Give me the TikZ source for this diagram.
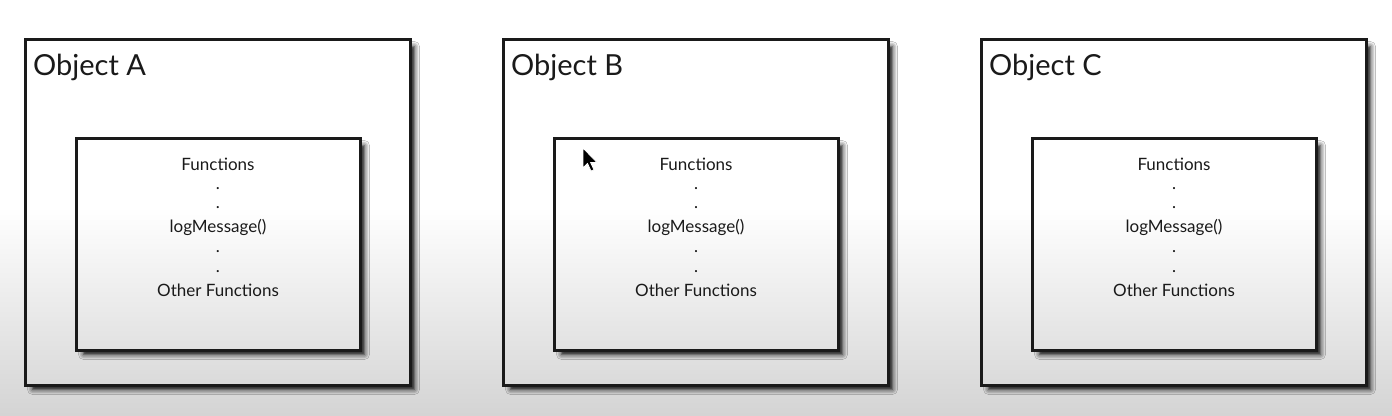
\documentclass[tikz,border=0pt]{standalone}
\usepackage{fontspec}
\setmainfont{Lato}
\usetikzlibrary{shadows.blur}
\definecolor{bgbot}{HTML}{D4D4D4}
\definecolor{ink}{HTML}{1A1A1A}
\pgfdeclareverticalshading{bgshade}{100bp}{color(0bp)=(bgbot); color(25bp)=(bgbot); color(50bp)=(white); color(100bp)=(white)}
\tikzset{
  boxline/.style={draw=ink, line width=3pt},
  softshadow/.style={blur shadow={shadow xshift=6pt, shadow yshift=-6pt, shadow blur radius=5pt, shadow opacity=100, shadow blur extra rounding=0pt}},
  outerbox/.style={boxline, rectangle, minimum width=382pt, minimum height=343pt, inner sep=0pt, softshadow},
  innerbox/.style={boxline, rectangle, minimum width=281pt, minimum height=209pt, inner sep=0pt, softshadow},
  title/.style={anchor=base west, inner sep=0pt, text=ink, font=\fontsize{29}{29}\selectfont},
  fline/.style={anchor=base, inner sep=0pt, text=ink, font=\fontsize{17}{17}\selectfont},
  cursor/.style={fill=black, draw=white, line width=0.8pt}
}
\begin{document}
\begin{tikzpicture}[x=1pt,y=-1pt]
\useasboundingbox (0,0) rectangle (1392,415);
\shade[shading=bgshade] (0,0) rectangle (1392,415);
\coordinate (bgnw) at (0,0);
\coordinate (bgse) at (1392,415);
\foreach \L/\dx in {A/0, B/478, C/956} {
  \node[outerbox] (o\L) at (217.5+\dx,212) {};
  \begin{scope}
    \clip (o\L.south west) rectangle (o\L.north east);
    \shade[shading=bgshade] (bgnw) rectangle (bgse);
  \end{scope}
  \draw[boxline] (o\L.south west) rectangle (o\L.north east);
  \node[title] (t\L) at (33+\dx,75) {Object \L};
  \node[innerbox] (i\L) at (218+\dx,244) {};
  \begin{scope}
    \clip (i\L.south west) rectangle (i\L.north east);
    \shade[shading=bgshade] (bgnw) rectangle (bgse);
  \end{scope}
  \draw[boxline] (i\L.south west) rectangle (i\L.north east);
  \node[fline] (f1\L) at (218+\dx,170) {Functions};
  \node[fline] (f2\L) at (218+\dx,189) {.};
  \node[fline] (f3\L) at (218+\dx,208) {.};
  \node[fline] (f4\L) at (218+\dx,232) {logMessage()};
  \node[fline] (f5\L) at (218+\dx,252) {.};
  \node[fline] (f6\L) at (218+\dx,272) {.};
  \node[fline] (f7\L) at (218+\dx,296) {Other Functions};
}
\draw[cursor] (583,148) -- (583,168) -- (587.5,163.5) -- (591,171) -- (594,169.8) -- (590.6,162.5) -- (597,162.5) -- cycle;
\end{tikzpicture}
\end{document}
